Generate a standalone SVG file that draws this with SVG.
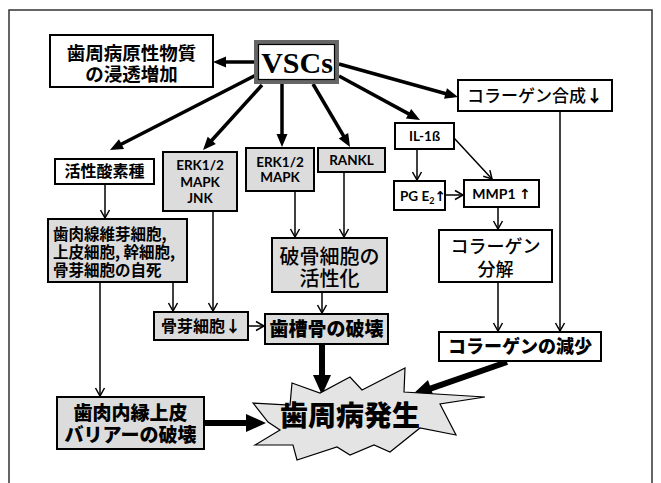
<svg xmlns="http://www.w3.org/2000/svg" width="661" height="483" viewBox="0 0 661 483">
<style>
.box{stroke:#000;stroke-width:2;fill:#fff}
.g{fill:#dcdcdc}
.jp{font-family:"Noto Sans CJK JP","Noto Sans",sans-serif;fill:#000}
.en{font-family:Lato,"Liberation Sans",sans-serif;font-weight:bold;fill:#000}
.arr{font-family:"DejaVu Sans",sans-serif;fill:#000}
.thin{stroke:#000;stroke-width:1.5;fill:none;marker-end:url(#mThin)}
.thick{stroke:#000;stroke-width:3.5;fill:none;marker-end:url(#mThick)}
.vthick{stroke:#000;stroke-width:6;fill:none;marker-end:url(#mBig)}
</style>
<defs>
<marker id="mThin" markerUnits="userSpaceOnUse" markerWidth="12" markerHeight="12" refX="8" refY="4.5" orient="auto" overflow="visible">
<path d="M0,0 L8,4.5 L0,9" fill="none" stroke="#000" stroke-width="1.5"/>
</marker>
<marker id="mThick" markerUnits="userSpaceOnUse" markerWidth="16" markerHeight="16" refX="8" refY="5.5" orient="auto" overflow="visible">
<path d="M0,0 L13,5.5 L0,11 z" fill="#000"/>
</marker>
<marker id="mBig" markerUnits="userSpaceOnUse" markerWidth="24" markerHeight="24" refX="12" refY="9" orient="auto" overflow="visible">
<path d="M0,0 L20,9 L0,18 z" fill="#000"/>
</marker>
</defs>
<rect width="661" height="483" fill="#fff"/>
<rect x="9" y="10" width="643" height="490" fill="none" stroke="#333" stroke-width="1.5"/>

<g id="connectors">
<line class="thick" x1="254" y1="62" x2="218" y2="62"/>
<line class="thick" x1="256" y1="75" x2="114.4" y2="147.7"/>
<line class="thick" x1="262" y1="85" x2="206.4" y2="146.3"/>
<line class="thick" x1="282" y1="84" x2="282" y2="142"/>
<line class="thick" x1="313" y1="84" x2="347.5" y2="142.7"/>
<line class="thick" x1="339" y1="76" x2="415.6" y2="117.6"/>
<line class="thick" x1="339" y1="64" x2="453.2" y2="95.7"/>
<line class="thin" x1="105" y1="184" x2="105" y2="218"/>
<line class="thin" x1="213" y1="211" x2="213" y2="311"/>
<line class="thin" x1="173" y1="282" x2="173" y2="311"/>
<line class="thin" x1="100" y1="282" x2="100" y2="396"/>
<line class="thin" x1="295" y1="191" x2="295" y2="237"/>
<line class="thin" x1="344" y1="172" x2="344" y2="237"/>
<line class="thin" x1="322" y1="292" x2="322" y2="313"/>
<line class="thin" x1="248" y1="326" x2="264" y2="326"/>
<line class="thin" x1="417" y1="149" x2="417" y2="180"/>
<line class="thin" x1="454" y1="138" x2="492" y2="179"/>
<line class="thin" x1="445" y1="195" x2="463" y2="195"/>
<line class="thin" x1="498" y1="207" x2="498" y2="229"/>
<line class="thin" x1="498" y1="282" x2="498" y2="331"/>
<line class="thin" x1="560" y1="111" x2="560" y2="331"/>
<line class="vthick" x1="322" y1="344" x2="322" y2="387"/>
<line class="vthick" x1="204" y1="423" x2="258" y2="423"/>
<line class="vthick" x1="507" y1="362" x2="419.6" y2="392.4"/>
</g>

<g id="vscs">
<rect x="256" y="42" width="81" height="40" fill="#fff" stroke="#666" stroke-width="4"/>
<rect x="258.5" y="44.5" width="76" height="35" fill="none" stroke="#000" stroke-width="1.2"/>
<text x="297" y="73" text-anchor="middle" font-family="Liberation Serif,serif" font-weight="bold" font-size="30">VSCs</text>
</g>

<g id="permeation">
<rect class="box" x="50" y="35" width="163" height="52"/>
<text class="jp" text-anchor="middle" font-size="18.5" font-weight="700"><tspan x="131.5" y="60">歯周病原性物質</tspan><tspan x="131.5" y="81">の浸透増加</tspan></text>
</g>

<g id="collagen-synthesis">
<rect class="box" x="458" y="80" width="154" height="31"/>
<text class="jp" x="535" y="102" text-anchor="middle" font-size="17" font-weight="500">コラーゲン合成<tspan font-weight="900">↓</tspan></text>
</g>

<g id="ros">
<rect class="box" x="55" y="159" width="99" height="25"/>
<text class="jp" x="104.5" y="177" text-anchor="middle" font-size="16" font-weight="700">活性酸素種</text>
</g>

<g id="erk-jnk">
<rect class="box g" x="163" y="152" width="74" height="59"/>
<text class="en" text-anchor="middle" font-size="13.5"><tspan x="200" y="170">ERK1/2</tspan><tspan x="200" y="187">MAPK</tspan><tspan x="200" y="203">JNK</tspan></text>
</g>

<g id="erk-mapk">
<rect class="box g" x="246" y="148" width="68" height="43"/>
<text class="en" text-anchor="middle" font-size="13.5"><tspan x="280" y="167">ERK1/2</tspan><tspan x="280" y="182">MAPK</tspan></text>
</g>

<g id="rankl">
<rect class="box g" x="318" y="148" width="67" height="24"/>
<text class="en" x="351.5" y="165" text-anchor="middle" font-size="13.5">RANKL</text>
</g>

<g id="apoptosis">
<rect class="box g" x="48" y="219" width="139" height="63"/>
<text class="jp" font-size="15.5" font-weight="700"><tspan x="53" y="240">歯肉線維芽細胞,</tspan><tspan x="53" y="258">上皮細胞, 幹細胞,</tspan><tspan x="53" y="276">骨芽細胞の自死</tspan></text>
</g>

<g id="osteoblast">
<rect class="box g" x="154" y="312" width="94" height="28"/>
<text class="jp" x="201" y="332" text-anchor="middle" font-size="16" font-weight="700">骨芽細胞<tspan font-weight="900">↓</tspan></text>
</g>

<g id="osteoclast">
<rect class="box g" x="272" y="238" width="115" height="54"/>
<text class="jp" text-anchor="middle" font-size="20" font-weight="500"><tspan x="329.5" y="264">破骨細胞の</tspan><tspan x="329.5" y="286">活性化</tspan></text>
</g>

<g id="alveolar-bone">
<rect class="box g" x="265" y="314" width="123" height="30"/>
<text class="jp" x="326.5" y="336" text-anchor="middle" font-size="19" font-weight="900">歯槽骨の破壊</text>
</g>

<g id="il1b">
<rect class="box" x="395" y="123" width="59" height="26"/>
<text class="en" x="424.5" y="141" text-anchor="middle" font-size="13.5">IL-1ß</text>
</g>

<g id="pge2">
<rect class="box" x="394" y="181" width="51" height="29"/>
<text class="en" x="400" y="201" font-size="13.5">PG E<tspan font-size="9" dy="3">2</tspan><tspan class="arr" dy="-3" font-weight="bold">↑</tspan></text>
</g>

<g id="mmp1">
<rect class="box" x="464" y="180" width="75" height="27"/>
<text class="en" x="501.5" y="199" text-anchor="middle" font-size="14">MMP1 <tspan class="arr" font-weight="bold">↑</tspan></text>
</g>

<g id="collagen-degradation">
<rect class="box" x="439" y="230" width="113" height="52"/>
<text class="jp" text-anchor="middle" font-size="18" font-weight="500"><tspan x="495.5" y="253">コラーゲン</tspan><tspan x="495.5" y="276">分解</tspan></text>
</g>

<g id="collagen-decrease">
<rect class="box" x="439" y="332" width="162" height="29"/>
<text class="jp" x="520" y="353" text-anchor="middle" font-size="18" font-weight="900">コラーゲンの減少</text>
</g>

<g id="barrier">
<rect class="box g" x="57" y="397" width="147" height="52"/>
<text class="jp" text-anchor="middle" font-size="19" font-weight="900"><tspan x="130.5" y="420">歯肉内縁上皮</tspan><tspan x="130.5" y="442">バリアーの破壊</tspan></text>
</g>

<g id="periodontitis">
<polygon points="253,403 290,405 292,383 320,393 350,377 362,390 405,368 404,392 485,397 440,404 456,435 420,428 390,452 374,445 350,455 337,447 297,460 293,445 255,445 280,430 268,422" fill="#e4e4e4" stroke="#000" stroke-width="1.2"/>
<text class="jp" x="350" y="426" text-anchor="middle" font-size="28" font-weight="900">歯周病発生</text>
</g>
</svg>
